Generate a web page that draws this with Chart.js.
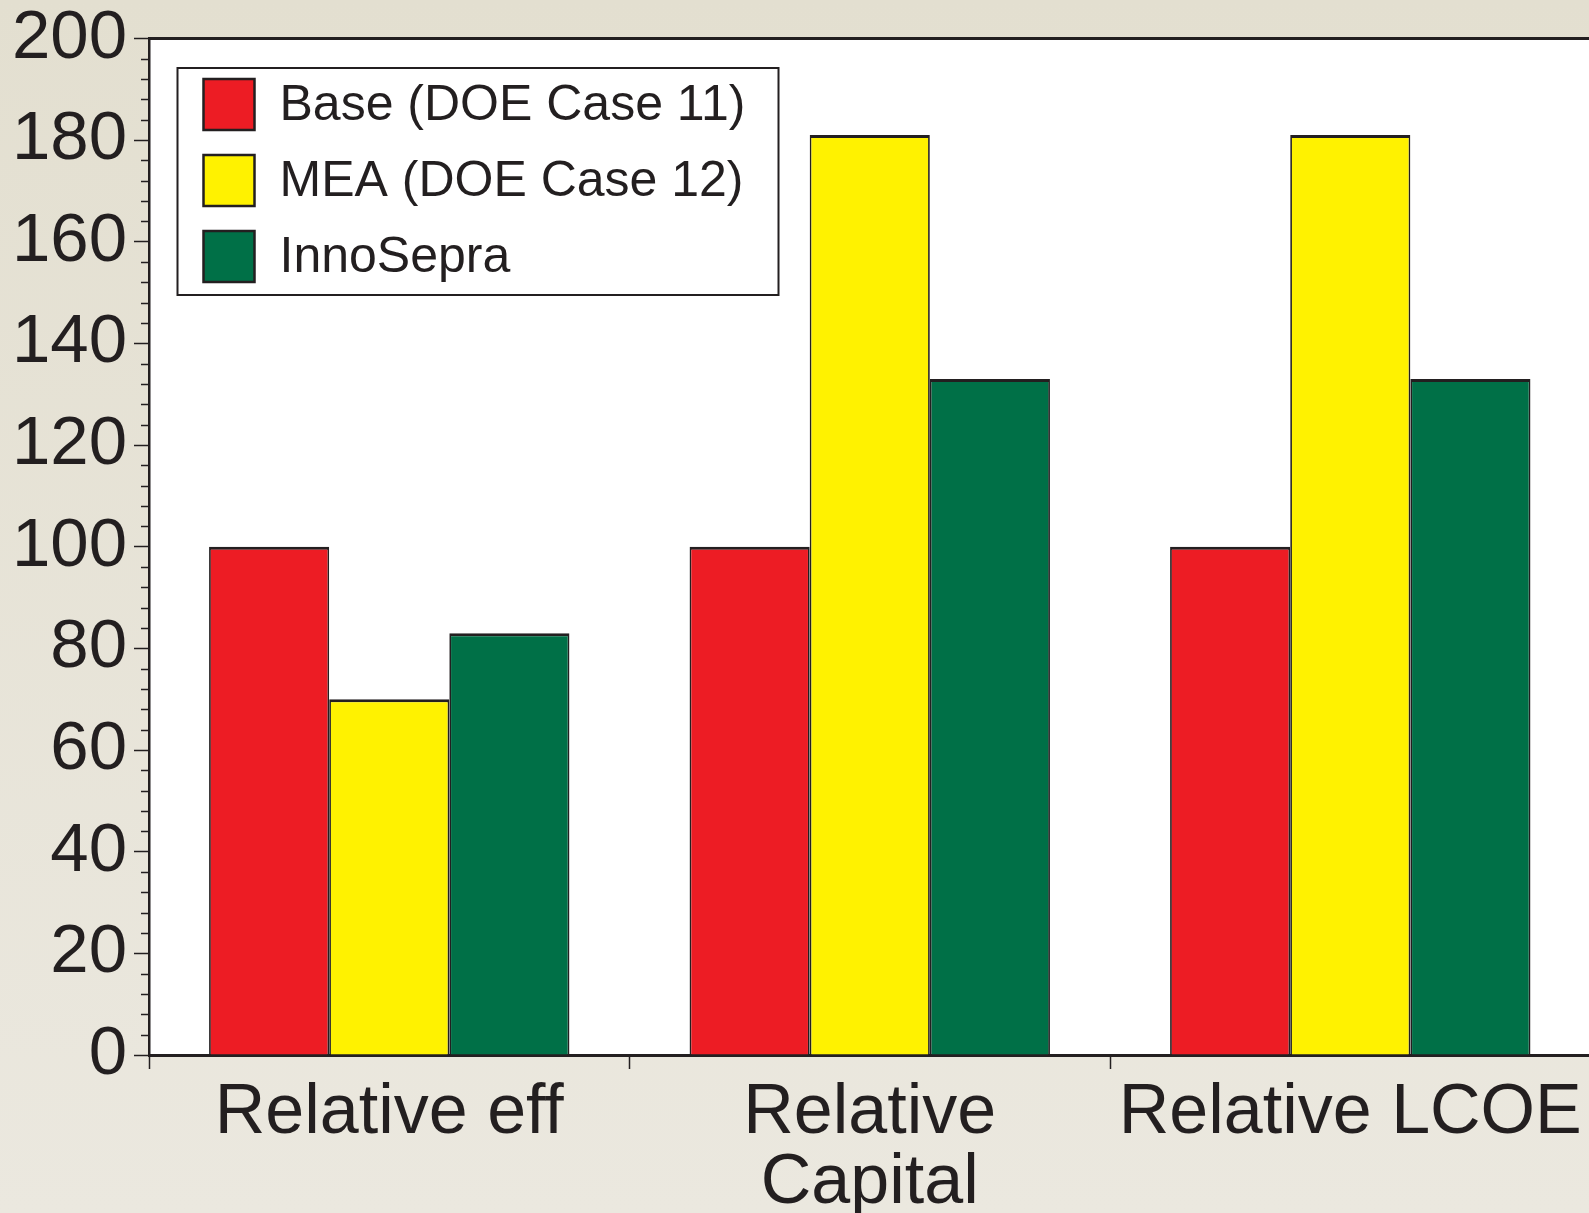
<!DOCTYPE html>
<html>
<head>
<meta charset="utf-8">
<script src="https://cdn.jsdelivr.net/npm/chart.js@4"></script>
<style>
  html, body { margin: 0; padding: 0; overflow: hidden; }
  body { width: 1589px; height: 1213px; background: linear-gradient(#e3dfd0, #ebe8df); }
  #wrap { position: relative; width: 1592px; height: 1213px; }
</style>
</head>
<body>
<div id="wrap"><canvas id="barChart"></canvas></div>
<script>
const categories = ['Relative eff', ['Relative', 'Capital'], 'Relative LCOE'];
const seriesNames = ['Base (DOE Case 11)', 'MEA (DOE Case 12)', 'InnoSepra'];
const baseValues = [100, 100, 100];
const meaValues = [70, 181, 181];
const innoValues = [83, 133, 133];
const seriesColors = ['#ed1c24', '#fff200', '#007047'];
const yMin = 0;
const yMax = 200;
const yMajorStep = 20;
const yMinorStep = 4;

const ink = '#231f20';
Chart.defaults.font.family = '"Liberation Sans", Arial, Helvetica, sans-serif';
Chart.defaults.color = ink;

// white plot area, minor y ticks and the boxed legend
const decorations = {
    id: 'decorations',
    beforeDraw(chart) {
        const { ctx, chartArea } = chart;
        ctx.save();
        ctx.fillStyle = '#ffffff';
        ctx.fillRect(chartArea.left, chartArea.top, chartArea.right - chartArea.left, chartArea.bottom - chartArea.top);
        ctx.restore();
    },
    afterDraw(chart) {
        const { ctx, chartArea } = chart;
        const y = chart.scales.y;
        ctx.save();
        ctx.strokeStyle = ink;
        ctx.lineWidth = 1.5;
        y.ticks.forEach(t => {
            if (t.value % yMajorStep === 0) return;
            const py = Math.round(y.getPixelForValue(t.value)) + 0.5;
            ctx.beginPath();
            ctx.moveTo(y.right - 8, py);
            ctx.lineTo(y.right, py);
            ctx.stroke();
        });

        // legend
        const bx = chartArea.left + 28.5;
        const by = chartArea.top + 29.5;
        ctx.lineWidth = 2;
        ctx.strokeRect(bx, by, 601, 227);
        ctx.font = '50px "Liberation Sans", Arial, sans-serif';
        ctx.textBaseline = 'middle';
        chart.data.datasets.forEach((ds, i) => {
            const sy = by + 11 + i * 76;
            ctx.fillStyle = ds.backgroundColor;
            ctx.fillRect(bx + 26, sy, 51, 51);
            ctx.strokeStyle = ink;
            ctx.lineWidth = 2.5;
            ctx.strokeRect(bx + 26, sy, 51, 51);
            ctx.fillStyle = ink;
            ctx.fillText(ds.label, bx + 102, sy + 27);
        });
        ctx.restore();
    }
};

const seriesValues = [baseValues, meaValues, innoValues];
const datasets = seriesNames.map((name, i) => ({
    label: name,
    data: seriesValues[i],
    backgroundColor: seriesColors[i],
    borderColor: ink,
    borderWidth: { top: 3, left: 1.75, right: 1.75, bottom: 0 },
    borderSkipped: false,
    categoryPercentage: 0.75,
    barPercentage: 1.0,
}));

const config = {
    type: 'bar',
    data: { labels: categories, datasets: datasets },
    options: {
        responsive: true,
        maintainAspectRatio: false,
        animation: false,
        layout: { padding: 0 },
        plugins: {
            legend: { display: false },
            tooltip: { enabled: false },
        },
        scales: {
            x: {
                position: 'bottom',
                afterFit(scale) { scale.height = 158; },
                border: { display: true, color: ink, width: 3 },
                grid: {
                    offset: true,
                    drawOnChartArea: false,
                    drawTicks: true,
                    tickLength: 14,
                    tickWidth: 1.5,
                    tickColor: ink,
                },
                ticks: {
                    autoSkip: false,
                    maxRotation: 0,
                    minRotation: 0,
                    padding: 10,
                    color: ink,
                    font: { size: 70, lineHeight: 1.0 },
                },
            },
            xTop: {
                type: 'category',
                position: 'top',
                labels: categories,
                afterFit(scale) { scale.height = 38.5; },
                border: { display: true, color: ink, width: 3 },
                grid: { display: false, drawTicks: false },
                ticks: { display: false },
            },
            y: {
                min: yMin,
                max: yMax,
                afterFit(scale) { scale.width = 149; },
                border: { display: true, color: ink, width: 2.5 },
                grid: {
                    drawOnChartArea: false,
                    drawTicks: true,
                    tickLength: 15,
                    tickWidth: 1.5,
                    tickColor: (c) => (c.tick && c.tick.value % yMajorStep === 0) ? ink : 'rgba(0,0,0,0)',
                },
                ticks: {
                    stepSize: yMinorStep,
                    autoSkip: false,
                    padding: 7,
                    color: ink,
                    font: { size: 69, lineHeight: 0.8 },
                    callback: (v) => (v % yMajorStep === 0 ? String(v) : ''),
                },
            },
        },
    },
    plugins: [decorations],
};

const barChart = new Chart(document.getElementById('barChart'), config);
</script>
</body>
</html>
